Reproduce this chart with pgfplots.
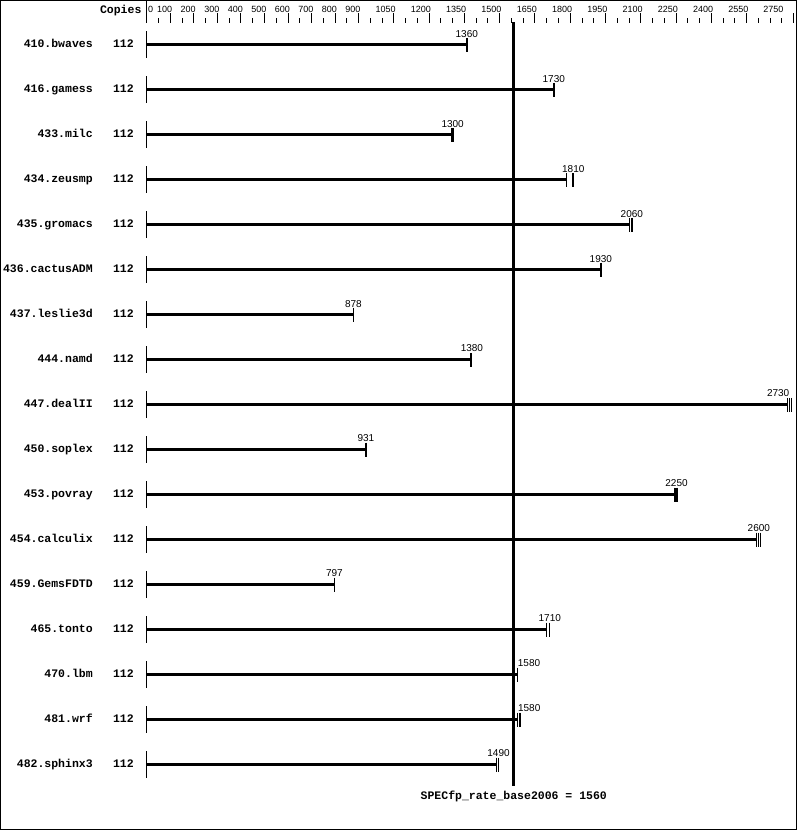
\documentclass[border=0pt]{standalone}
\usepackage{fontspec}
\setmainfont{Liberation Sans}
\setmonofont{Liberation Mono}
\usepackage{pgfplots}
\pgfplotsset{compat=1.18}
\usepackage{pgfplotstable}

% y = row position (px from top), lo = first run (bar end), med = median run
\pgfplotstableread{
y     lo    med   dx     lab   cp   name
44.5  1360  1360  0      1360  112  410.bwaves
89.5  1730  1730  0      1730  112  416.gamess
134.5 1300  1300  0      1300  112  433.milc
179.5 1786  1813  0      1810  112  434.zeusmp
224.5 2053  2062  0      2060  112  435.gromacs
269.5 1930  1930  0      1930  112  436.cactusADM
314.5 878   878   0      878   112  437.leslie3d
359.5 1374  1382  0      1380  112  444.namd
404.5 2725  2733  -11.5  2730  112  447.dealII
449.5 931   931   0      931   112  450.soplex
494.5 2244  2252  0      2250  112  453.povray
539.5 2594  2602  0      2600  112  454.calculix
584.5 797   797   0      797   112  459.GemsFDTD
629.5 1698  1713  0      1710  112  465.tonto
674.5 1575  1575  11.7   1580  112  470.lbm
719.5 1576  1583  10     1580  112  481.wrf
764.5 1487  1495  0      1490  112  482.sphinx3
}\spec

% individual runs drawn as heavy ticks
\pgfplotstableread{
x    y
1360 44.5
1730 89.5
1300 134.5
1813 179.5
2062 224.5
1930 269.5
931  449.5
2252 494.5
}\thickruns

% individual runs drawn as light ticks
\pgfplotstableread{
x    y
1786 179.5
2053 224.5
878  314.5
1374 359.5
1382 359.5
2725 404.5
2733 404.5
2742 404.5
2244 494.5
2594 539.5
2602 539.5
2610 539.5
797  584.5
1698 629.5
1713 629.5
1575 674.5
1576 719.5
1583 719.5
1590 719.5
1487 764.5
1495 764.5
}\thinruns

\newcommand{\lblfont}{\ttfamily\bfseries\fontsize{11.5}{12}\selectfont}

\begin{document}
\begin{tikzpicture}
\begin{axis}[
  scale only axis, width=649.5pt, height=808pt,
  xmin=0, xmax=2760, ymin=23, ymax=831, y dir=reverse,
  axis line style={draw=none},
  clip=false,
  xtick pos=right, xticklabel pos=right,
  tick align=outside,
  major tick length=10pt, minor tick length=5pt,
  tick style={black, line width=1pt},
  ytick=\empty,
  xtick={0,100,...,900,1050,1200,...,2550,2750},
  xticklabels={\rlap{0},100,200,300,400,500,600,700,800,900,1050,1200,1350,1500,1650,1800,1950,2100,2250,2400,2550,2750\kern12pt},
  minor xtick={50,100,...,2700},
  xticklabel style={font=\fontsize{9}{10}\selectfont, anchor=base east, inner sep=0pt, xshift=2pt, yshift=1pt},
]
% bars
\addplot[xcomb, black, line width=3pt, no marks] table[x=lo, y=y] {\spec};
% start ticks
\addplot[only marks, mark=|, mark size=13.5pt, mark options={line width=1pt, black}] table[x expr=0, y=y] {\spec};
% run ticks
\addplot[only marks, mark=|, mark size=7pt, mark options={line width=2.4pt, black}] table[x=x, y=y] {\thickruns};
\addplot[only marks, mark=|, mark size=7pt, mark options={line width=1pt, black}] table[x=x, y=y] {\thinruns};
% reference line
\addplot[black, line width=3pt] coordinates {(1560,22) (1560,786)};
% value labels
\addplot[draw=none, no marks, nodes near coords, point meta=explicit symbolic,
  visualization depends on={\thisrow{dx} \as \dx},
  nodes near coords style={anchor=base, inner sep=0pt, yshift=7.8pt, xshift=\dx pt, font=\fontsize{10}{11}\selectfont, black}]
  table[x=med, y=y, meta=lab] {\spec};
% benchmark names
\addplot[draw=none, no marks, nodes near coords, point meta=explicit symbolic,
  nodes near coords style={anchor=base east, inner sep=0pt, xshift=-54pt, yshift=-2.5pt, font=\lblfont, black}]
  table[x expr=0, y=y, meta=name] {\spec};
% copies
\addplot[draw=none, no marks, nodes near coords, point meta=explicit symbolic,
  nodes near coords style={anchor=base east, inner sep=0pt, xshift=-13pt, yshift=-2.5pt, font=\lblfont, black}]
  table[x expr=0, y=y, meta=cp] {\spec};

\draw[black, line width=1pt] (axis cs:0,0) -- (axis cs:0,23);
\node[anchor=base east, inner sep=0pt, font=\lblfont] at (axis cs:-22.5,13.5) {Copies};
\node[anchor=base, inner sep=0pt, font=\lblfont] at (axis cs:1560,799) {SPECfp\_rate\_base2006 = 1560};
\draw[black, line width=1pt] (axis cs:-622.5,0.5) rectangle (axis cs:2760,829.5);
\path (axis cs:-624.64,0) rectangle (axis cs:2770.6,831);
\end{axis}
\end{tikzpicture}
\end{document}
